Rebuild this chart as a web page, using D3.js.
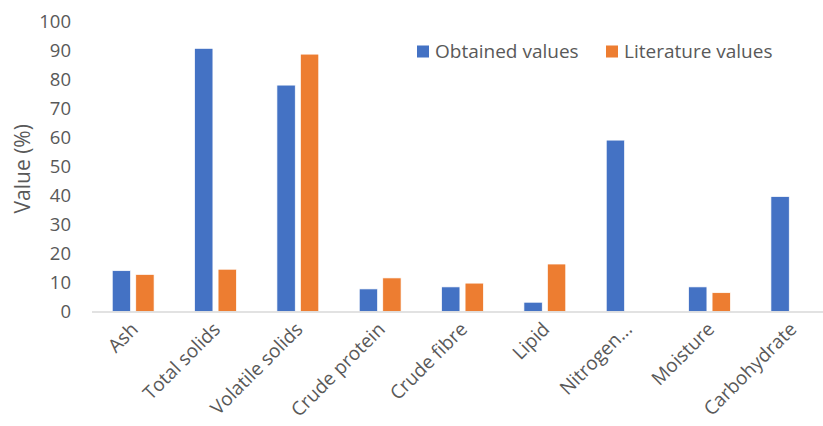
<!DOCTYPE html>
<html><head><meta charset="utf-8">
<script src="https://cdn.jsdelivr.net/npm/d3@7"></script>
<style>body{margin:0;background:#fff}svg{display:block}text{font-family:"Open Sans",sans-serif;fill:#595959}</style>
</head><body><svg id="c" width="823" height="426"></svg>
<script>
const categories = ["Ash","Total solids","Volatile solids","Crude protein","Crude fibre","Lipid","Nitrogen...","Moisture","Carbohydrate"];
const seriesNames = ["Obtained values","Literature values"];
const obtained = [14.1, 90.9, 78.2, 7.8, 8.5, 3.2, 59.2, 8.5, 39.7];
const literature = [12.8, 14.6, 88.9, 11.6, 9.8, 16.4, null, 6.5, null];
const yTicks = [0,10,20,30,40,50,60,70,80,90,100];
const colors = ["#4472C4","#ED7D31"];

const svg = d3.select("#c");
const x0 = 92, x1 = 833, yTop = 22, yBot = 311.5;
const x = d3.scaleBand().domain(categories).range([x0, x1]).paddingInner(0.492).paddingOuter(0.246);
const xs = d3.scaleBand().domain(seriesNames).range([0, x.bandwidth()]).paddingInner(0.22);
const y = d3.scaleLinear().domain([0,100]).range([yBot, yTop]);

// y tick labels
svg.append("g").selectAll("text").data(yTicks).join("text")
  .attr("x", 71).attr("y", d => y(d)).attr("dy", "0.35em")
  .attr("text-anchor", "end").style("font-size", "18.5px").text(d => d);

// y title
svg.append("text").attr("transform", `translate(30,${(yTop+yBot)/2 + 2}) rotate(-90)`)
  .attr("text-anchor","middle").style("font-size","21px").text("Value (%)");

const data = [obtained, literature];
seriesNames.forEach((s, si) => {
  svg.append("g").selectAll("rect")
    .data(categories.map((c,i)=>({c, v:data[si][i]})).filter(d => d.v != null))
    .join("rect")
    .attr("x", d => x(d.c) + xs(s))
    .attr("width", xs.bandwidth())
    .attr("y", d => y(d.v))
    .attr("height", d => y(0) - y(d.v))
    .attr("fill", colors[si])
    .attr("stroke", "#fff").attr("stroke-width", 0.7);
});

// x axis line
svg.append("line").attr("x1", x0).attr("x2", 823).attr("y1", yBot+0.5).attr("y2", yBot+0.5)
  .attr("stroke", "#D9D9D9").attr("stroke-width", 1.5);

// x labels
svg.append("g").selectAll("text").data(categories).join("text")
  .attr("transform", d => `translate(${x(d) + x.bandwidth()/2 + 6},${yBot + 19}) rotate(-45)`)
  .attr("text-anchor","end").style("font-size","19px").text(d => d);

// legend
const leg = [{n:seriesNames[0], x:417},{n:seriesNames[1], x:606}];
leg.forEach((l,i) => {
  svg.append("rect").attr("x", l.x).attr("y", 45.5).attr("width", 12).attr("height", 12).attr("fill", colors[i]);
  svg.append("text").attr("x", l.x + 18).attr("y", 57.5).style("font-size","19px").text(l.n);
});
</script></body></html>
